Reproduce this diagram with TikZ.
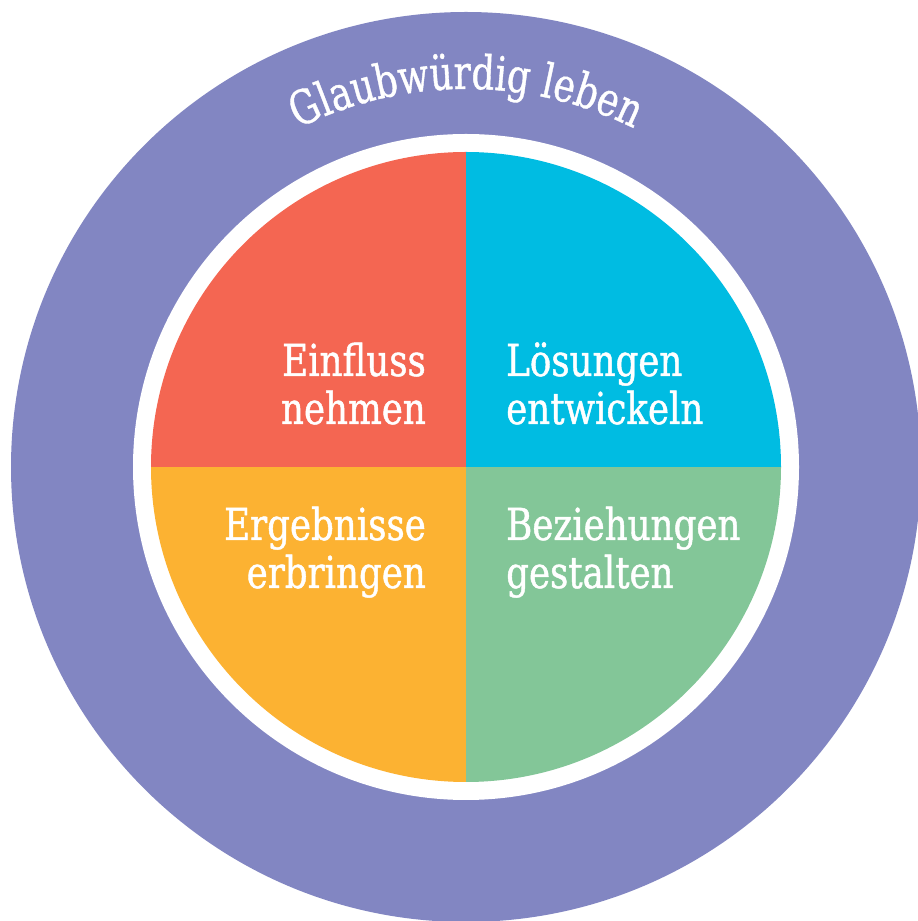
\documentclass[tikz,border=0pt]{standalone}
\usepackage{fontspec}
\usetikzlibrary{decorations.text}
\newfontfamily\quadfont{DejaVu Serif Condensed}[FakeStretch=0.9, FakeBold=1]
\newfontfamily\titlefont{DejaVu Serif Condensed}[FakeStretch=0.85, FakeBold=0.8]
\definecolor{ringpurple}{RGB}{130,134,194}
\definecolor{quadred}{RGB}{244,102,82}
\definecolor{quadcyan}{RGB}{0,188,226}
\definecolor{quadorange}{RGB}{252,178,50}
\definecolor{quadgreen}{RGB}{131,198,152}
\tikzset{
  qtext/.style={text=white, inner sep=0pt, font=\quadfont\fontsize{44}{48}\selectfont},
}
\begin{document}
\begin{tikzpicture}[x=1pt,y=1pt]
\useasboundingbox (0,0) rectangle (918,921);
\fill[white] (0,0) rectangle (918,921);
\coordinate (C) at (466,454);
\fill[ringpurple] (C) circle[radius=455];
\fill[white] (C) circle[radius=333];
\begin{scope}
  \clip (C) circle[radius=315];
  \fill[quadred] (C) rectangle ++(-320,320);
  \fill[quadcyan] (C) rectangle ++(320,320);
  \fill[quadorange] (C) rectangle ++(-320,-320);
  \fill[quadgreen] (C) rectangle ++(320,-320);
\end{scope}
\path[decorate, decoration={text along path, text align=center,
  text={|\titlefont\fontsize{47}{47}\selectfont\color{white}|Glaubwürdig leben}}]
  (C) ++(150:378) arc[start angle=150, end angle=30, radius=378];
\node[qtext, anchor=base east] (einfluss) at (426,545) {Einfluss};
\node[qtext, anchor=base east] (nehmen) at (426,497) {nehmen};
\node[qtext, anchor=base west] (loesungen) at (506,545) {Lösungen};
\node[qtext, anchor=base west] (entwickeln) at (506,497) {entwickeln};
\node[qtext, anchor=base east] (ergebnisse) at (426,381) {Ergebnisse};
\node[qtext, anchor=base east] (erbringen) at (426,333) {erbringen};
\node[qtext, anchor=base west] (beziehungen) at (506,381) {Beziehungen};
\node[qtext, anchor=base west] (gestalten) at (506,333) {gestalten};
\end{tikzpicture}
\end{document}
